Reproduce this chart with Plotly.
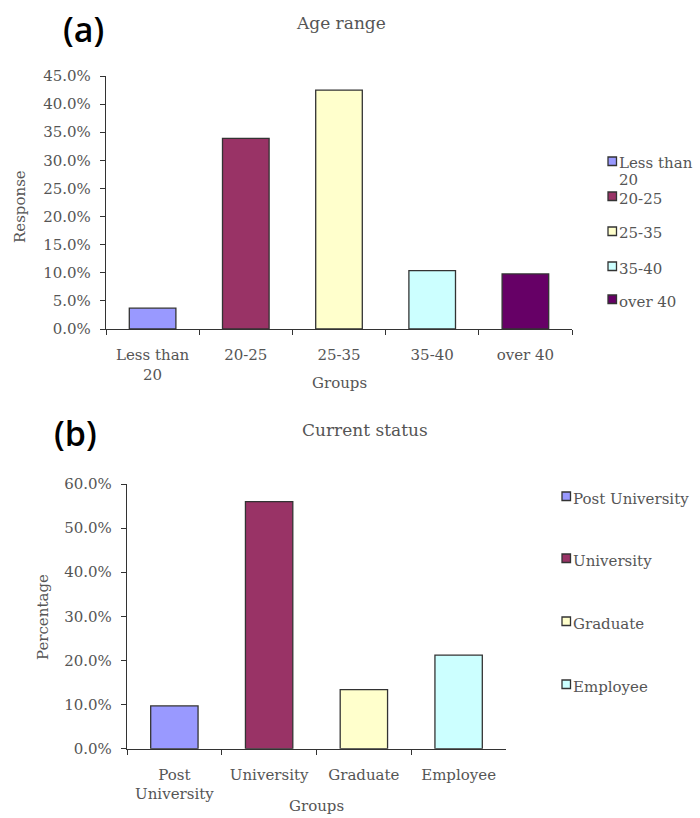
import plotly.graph_objects as go

# ---- data ----
age_groups = ["Less than 20", "20-25", "25-35", "35-40", "over 40"]
age_ticklabels = ["Less than<br>20", "20-25", "25-35", "35-40", "over 40"]
age_legend = ["Less than<br>20", "20-25", "25-35", "35-40", "over 40"]
age_values = [0.037, 0.339, 0.425, 0.104, 0.098]

status_groups = ["Post University", "University", "Graduate", "Employee"]
status_ticklabels = ["Post<br>University", "University", "Graduate", "Employee"]
status_legend = ["Post University", "University", "Graduate", "Employee"]
status_values = [0.097, 0.560, 0.134, 0.212]

colors = ["#9999FF", "#993366", "#FFFFCC", "#CCFFFF", "#660066"]

W, H = 700, 818
def px_x(x):
    return x / W
def px_y(y):
    return 1 - y / H

FONT = "DejaVu Serif"
TXT = "#555555"
LINE = "#333333"

fig = go.Figure()

for i, (g, v) in enumerate(zip(age_groups, age_values)):
    fig.add_trace(go.Bar(
        x=[g], y=[v], name=g, width=0.5, showlegend=False,
        marker=dict(color=colors[i], line=dict(color=LINE, width=1.3)),
        xaxis="x", yaxis="y", hoverinfo="x+y",
    ))

for i, (g, v) in enumerate(zip(status_groups, status_values)):
    fig.add_trace(go.Bar(
        x=[g], y=[v], name=g, width=0.5, showlegend=False,
        marker=dict(color=colors[i], line=dict(color=LINE, width=1.3)),
        xaxis="x2", yaxis="y2", hoverinfo="x+y",
    ))

axis_common = dict(
    showline=True, linecolor=LINE, linewidth=1.3, showgrid=False, zeroline=False,
    ticks="outside", ticklen=5, tickcolor=LINE, tickwidth=1.3, automargin=False,
    tickfont=dict(family=FONT, size=15, color=TXT),
)

fig.update_layout(
    width=W, height=H,
    margin=dict(l=0, r=0, t=0, b=0),
    paper_bgcolor="white", plot_bgcolor="white",
    barmode="overlay", showlegend=False,
    font=dict(family=FONT, size=15, color=TXT),
    xaxis=dict(domain=[px_x(106), px_x(572)], anchor="y", type="category",
               categoryorder="array", categoryarray=age_groups,
               tickvals=age_groups, ticktext=age_ticklabels,
               tickson="boundaries", ticklabelstandoff=12, **axis_common),
    yaxis=dict(domain=[px_y(329), px_y(76)], anchor="x", range=[0, 0.45],
               dtick=0.05, tickformat=".1%", ticklabelstandoff=6, **axis_common),
    xaxis2=dict(domain=[px_x(127), px_x(506)], anchor="y2", type="category",
                categoryorder="array", categoryarray=status_groups,
                tickvals=status_groups, ticktext=status_ticklabels,
                tickson="boundaries", ticklabelstandoff=12, **axis_common),
    yaxis2=dict(domain=[px_y(748.7), px_y(484)], anchor="x2", range=[0, 0.6],
                dtick=0.1, tickformat=".1%", ticklabelstandoff=6, **axis_common),
)

annotations = [
    dict(text="(a)", x=px_x(83), y=px_y(29), font=dict(family="Open Sans", size=34, color="#000", weight=600)),
    dict(text="(b)", x=px_x(75), y=px_y(433), font=dict(family="Open Sans", size=34, color="#000", weight=600)),
    dict(text="Age range", x=px_x(341), y=px_y(23), font=dict(family=FONT, size=17, color=TXT)),
    dict(text="Current status", x=px_x(365), y=px_y(430), font=dict(family=FONT, size=17, color=TXT)),
    dict(text="Response", x=px_x(20), y=px_y(207), textangle=-90, font=dict(family=FONT, size=15, color=TXT)),
    dict(text="Percentage", x=px_x(43), y=px_y(617), textangle=-90, font=dict(family=FONT, size=15, color=TXT)),
    dict(text="Groups", x=px_x(339), y=px_y(383), font=dict(family=FONT, size=15, color=TXT)),
    dict(text="Groups", x=px_x(316), y=px_y(806), font=dict(family=FONT, size=15, color=TXT)),
]
for a in annotations:
    a.update(xref="paper", yref="paper", showarrow=False, xanchor="center", yanchor="middle")

shapes = []
# manual legends (swatch + label) for each panel
def add_legend(labels, x_sw, y_tops, x_txt, size=8.5, line_gap=17):
    for i, (lab, yt) in enumerate(zip(labels, y_tops)):
        shapes.append(dict(type="rect", xref="paper", yref="paper",
                           x0=px_x(x_sw), x1=px_x(x_sw + size),
                           y0=px_y(yt + size), y1=px_y(yt),
                           fillcolor=colors[i], line=dict(color=LINE, width=1.3)))
        for k, part in enumerate(lab.split("<br>")):
            annotations.append(dict(text=part, xref="paper", yref="paper", showarrow=False,
                                    x=px_x(x_txt), y=px_y(yt + 6.5 + k * line_gap),
                                    xanchor="left", yanchor="middle", align="left",
                                    borderpad=0,
                                    font=dict(family=FONT, size=15, color=TXT)))

add_legend(age_legend, 608, [157, 192, 227, 262, 295], 618)
add_legend(status_legend, 562, [492, 554, 617, 680], 572)

fig.update_layout(annotations=annotations, shapes=shapes)

fig.write_html("out.html", config={"displayModeBar": False},
               post_script="document.body.style.margin='0';")
